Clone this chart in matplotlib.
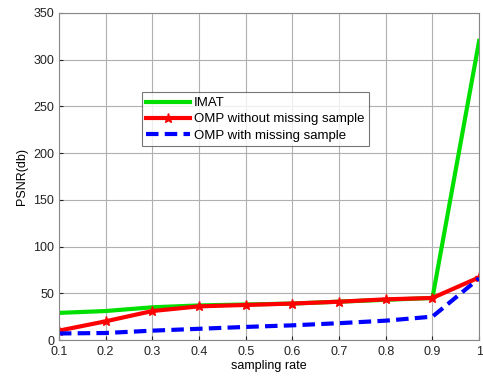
import matplotlib
matplotlib.use("Agg")
import matplotlib.pyplot as plt

# data
rates = [0.1, 0.2, 0.3, 0.4, 0.5, 0.6, 0.7, 0.8, 0.9, 1.0]
imat = [29, 31, 35, 37, 38, 39, 41, 43, 45, 320]
omp_full = [10, 20, 31, 36, 37.5, 39, 41, 43.5, 45, 67]
omp_missing = [7, 7.5, 10, 12, 14, 15.7, 18, 20.7, 25, 66]
xticks = [0.1, 0.2, 0.3, 0.4, 0.5, 0.6, 0.7, 0.8, 0.9, 1]
xtick_labels = ["0.1", "0.2", "0.3", "0.4", "0.5", "0.6", "0.7", "0.8", "0.9", "1"]

plt.rcParams['font.family'] = ['Liberation Sans', 'DejaVu Sans']

fig = plt.figure(figsize=(4.83, 3.78), dpi=100)
ax = fig.add_axes([0.122, 0.1005, 0.870, 0.8655])

ax.plot(rates, imat, color="#00e000", lw=3, label="IMAT")
ax.plot(rates, omp_full, color="red", lw=3, marker="*", markersize=6.5,
        label="OMP without missing sample")
ax.plot(rates, omp_missing, color="blue", lw=3, ls=(0, (3, 1.5)),
        label="OMP with missing sample")

ax.set_xlim(0.1, 1)
ax.set_ylim(0, 350)
ax.set_xticks(xticks)
ax.set_xticklabels(xtick_labels)
ax.set_yticks(range(0, 351, 50))
ax.grid(True, color="#b0b0b0", lw=0.8)
ax.tick_params(direction="in", labelsize=9, length=3, colors="#222222")
ax.tick_params(axis="x", pad=4)
for s in ax.spines.values():
    s.set_color("#888888")

ax.set_xlabel("sampling rate", fontsize=9, labelpad=2)
ax.set_ylabel("PSNR(db)", fontsize=9, labelpad=4)

leg = ax.legend(loc="upper left", bbox_to_anchor=(0.197, 0.757), fontsize=9.5,
                frameon=True, fancybox=False, edgecolor="#555555",
                borderpad=0.35, labelspacing=0.3, handlelength=3.3,
                handletextpad=0.3, borderaxespad=0)
leg.get_frame().set_linewidth(0.8)

fig.savefig("out.png", dpi=100)
